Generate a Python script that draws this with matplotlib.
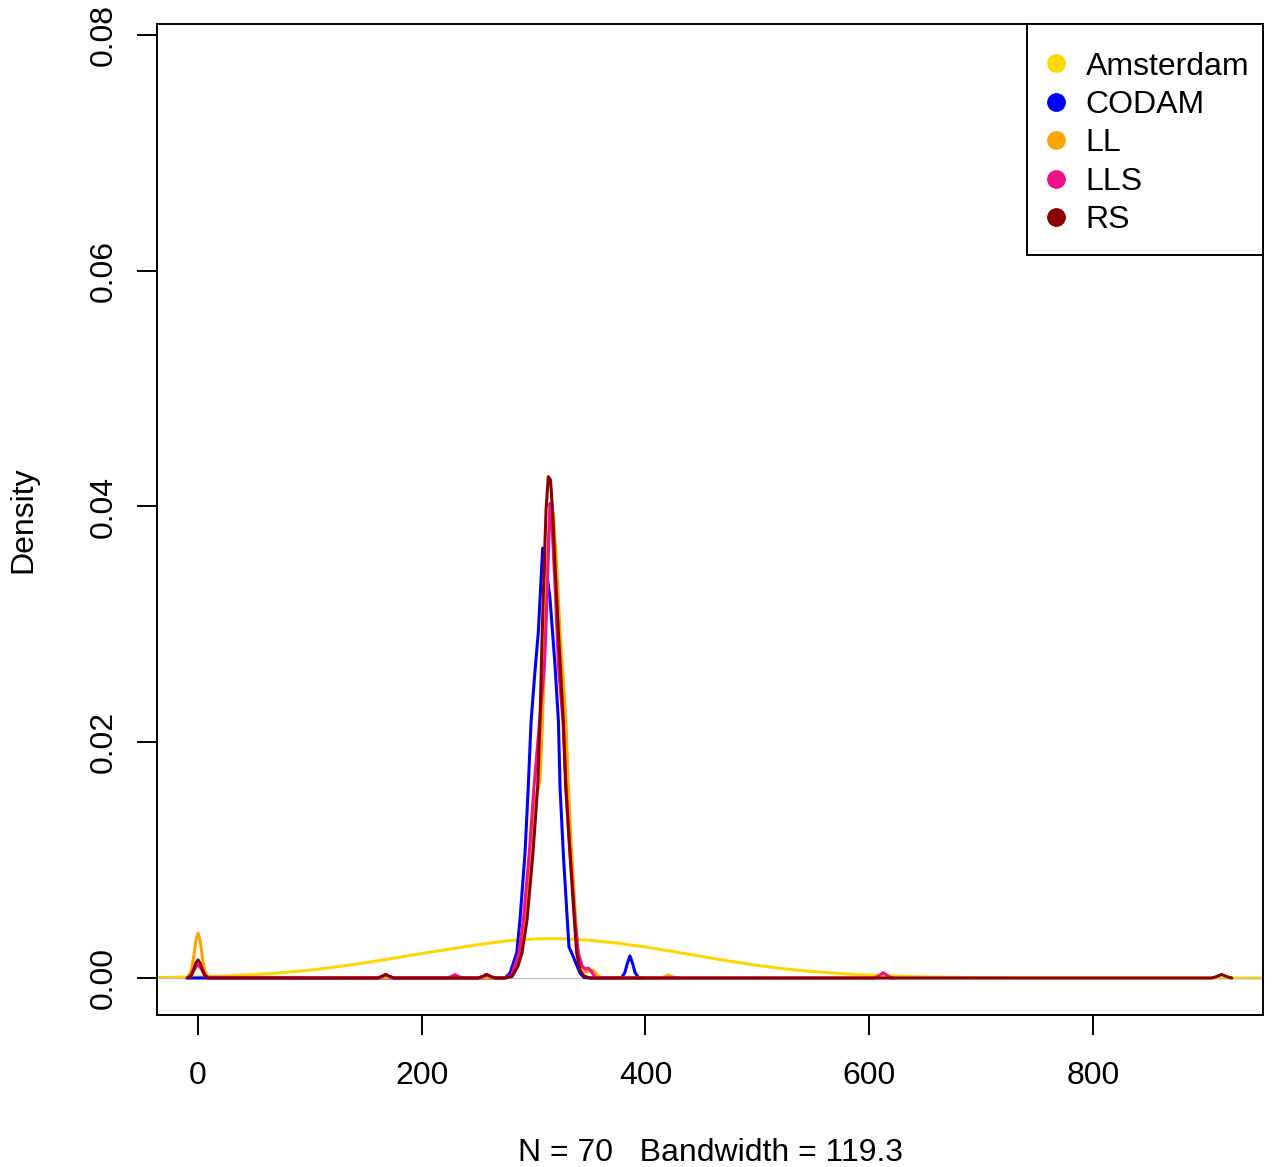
import matplotlib
matplotlib.use('Agg')
import matplotlib.pyplot as plt
from matplotlib.lines import Line2D
from matplotlib.patches import Rectangle

plt.rcParams['font.family'] = ['Liberation Sans', 'DejaVu Sans']

series_names = ['Amsterdam', 'CODAM', 'LL', 'LLS', 'RS']
series_colors = ['#FFD700', '#0000FF', '#FFA500', '#EE1289', '#8B0000']

amsterdam_x = [-37, 0, 25, 50, 75, 100, 125, 150, 175, 200, 225, 250, 275, 300, 313,
               325, 350, 375, 400, 425, 450, 475, 500, 525, 550, 575, 600, 625, 650,
               675, 700, 750, 800, 952]
amsterdam_y = [0.00003, 0.00010, 0.00017, 0.00029, 0.00045, 0.00067, 0.00096, 0.00130,
               0.00168, 0.00208, 0.00245, 0.00282, 0.00314, 0.00331, 0.00334, 0.00333,
               0.00320, 0.00296, 0.00263, 0.00224, 0.00183, 0.00143, 0.00107, 0.00077,
               0.00054, 0.00037, 0.00025, 0.00016, 0.00010, 0.00006, 0.00003, 0.00001,
               0.0, 0.0]

codam_x = [-10, 274.4, 278.9, 284.9, 287.8, 292.3, 295.2, 297.7, 301.0, 304.2, 306.6,
           308.1, 310.2, 314.6, 319.1, 322.2, 323.6, 326.5, 330.1, 331.6, 335.2, 338.8,
           341.5, 345.0, 350.4, 378.5, 381.5, 383.8, 386.1, 388.4, 390.7, 394.0, 397.0]
codam_y = [0, 0, 0.00042, 0.00212, 0.00492, 0.01060, 0.01620, 0.02172, 0.02580, 0.02935,
           0.03376, 0.03648, 0.03546, 0.03224, 0.02655, 0.02172, 0.01620, 0.01060,
           0.00492, 0.00263, 0.00187, 0.00102, 0.00042, 0.00004, 0, 0, 0.00045, 0.00125,
           0.00187, 0.00125, 0.00045, 0, 0]

ll_x = [-10, -9, -6, -4, -2, 0, 2, 4, 6, 9, 274.4, 278.9, 283.4, 287.8, 291.7, 297.7,
        301.2, 303.9, 305.7, 307.8, 309.5, 312.0, 314.2, 316.0, 317.8, 320.6, 323.6,
        328.9, 331.0, 334.0, 337.6, 339.9, 343.2, 346.8, 350.4, 353.3, 356.6, 361.1,
        413, 417, 420.5, 424, 428, 430]
ll_y = [0, 0.00007, 0.00065, 0.0017, 0.0031, 0.0038, 0.0031, 0.0017, 0.00065, 0.00007,
        0, 0.00008, 0.00051, 0.00212, 0.00492, 0.01060, 0.01536, 0.01595, 0.01680,
        0.02146, 0.02655, 0.03461, 0.03885, 0.03987, 0.03928, 0.03504, 0.02935, 0.02172,
        0.01620, 0.01060, 0.00492, 0.00212, 0.00102, 0.00051, 0.00059, 0.00068, 0.00025,
        0, 0, 0.0001, 0.00025, 0.0001, 0, 0]

lls_x = [-10, -8, -6, -4, -2, 0, 2, 4, 6, 8, 160, 164, 167.8, 171.6, 175.6, 222, 226,
         229.7, 233.4, 237.4, 250, 254.2, 258, 261.8, 266, 274.4, 280.4, 286.9, 290.8,
         296.1, 300.3, 305.3, 309.7, 312.0, 313.7, 314.6, 315.5, 316.7, 319.7, 322.1,
         326.3, 328.9, 332.5, 337.0, 339.9, 343.5, 346.8, 348.9, 351.3, 354.9, 357.5,
         604.5, 608.5, 612.5, 616.5, 620.5, 622]
lls_y = [0, 0.00005, 0.0002, 0.0006, 0.0009, 0.0011, 0.0009, 0.0006, 0.0002, 0.00005,
         0, 0.0001, 0.00028, 0.0001, 0, 0, 0.0001, 0.00028, 0.0001, 0, 0, 0.0001,
         0.00028, 0.0001, 0, 0, 0.00025, 0.00212, 0.00492, 0.01060, 0.01620, 0.02172,
         0.02655, 0.03224, 0.03784, 0.04027, 0.03970, 0.03784, 0.03224, 0.02655, 0.02172,
         0.01620, 0.01060, 0.00492, 0.00212, 0.00096, 0.00076, 0.00085, 0.00059, 0.00008,
         0, 0, 0.00018, 0.00045, 0.00018, 0, 0]

rs_x = [-9, -6, -4, -2, 0, 2, 4, 6, 9, 160, 164, 167.8, 171.6, 175.6, 250, 254.2, 258,
        261.8, 266, 274.4, 280.7, 286.0, 289.6, 294.1, 299.4, 303.6, 305.7, 307.5, 309.5,
        311.1, 313.1, 315.1, 316.9, 319.1, 322.5, 326.5, 328.7, 332.5, 336.4, 338.5,
        341.5, 345.0, 350.4, 906, 910.5, 915, 919.5, 924]
rs_y = [0, 0.00026, 0.0007, 0.00126, 0.00153, 0.00126, 0.0007, 0.00026, 0, 0, 0.00012,
        0.00031, 0.00012, 0, 0, 0.00012, 0.00031, 0.00012, 0, 0, 0.000127, 0.00102,
        0.00212, 0.00492, 0.01060, 0.01620, 0.02189, 0.02867, 0.03504, 0.03970, 0.04253,
        0.04225, 0.03970, 0.03504, 0.02867, 0.02189, 0.01620, 0.01060, 0.00492, 0.00212,
        0.00068, 0.00017, 0, 0, 0.00012, 0.0003, 0.00012, 0]

x_ticks = [0, 200, 400, 600, 800]
y_ticks = [0.00, 0.02, 0.04, 0.06, 0.08]
y_tick_labels = ['0.00', '0.02', '0.04', '0.06', '0.08']
x_label = 'N = 70   Bandwidth = 119.3'
y_label = 'Density'

series = [(amsterdam_x, amsterdam_y), (codam_x, codam_y), (ll_x, ll_y),
          (lls_x, lls_y), (rs_x, rs_y)]

FS = 23
W, H = 1272, 1167
fig = plt.figure(figsize=(W / 100, H / 100), dpi=100)
ax_l, ax_r, ax_t, ax_b = 157, 1263, 24, 1015
ax = fig.add_axes([ax_l / W, 1 - ax_b / H, (ax_r - ax_l) / W, (ax_b - ax_t) / H])

for i, ((xs, ys), c) in enumerate(zip(series, series_colors)):
    ax.plot(xs, ys, color=c, lw=2.2, solid_joinstyle='round', solid_capstyle='round',
            zorder=1 if i == 0 else 2)
ax.axhline(0, color='#BEBEBE', lw=0.9, zorder=1.5)

ax.set_xlim(-36.65, 951.96)
ax.set_ylim(-0.003139, 0.080933)

ax.set_xticks(x_ticks)
ax.set_xticklabels([str(t) for t in x_ticks])
ax.set_yticks(y_ticks)
ax.set_yticklabels(y_tick_labels)

for s in ax.spines.values():
    s.set_linewidth(1.4)
    s.set_color('black')

ax.tick_params(axis='both', direction='out', length=14.2, width=1.4, labelsize=FS,
               colors='black')
ax.tick_params(axis='x', pad=19.0)
ax.tick_params(axis='y', pad=13.0, labelrotation=90)
for lab in ax.get_yticklabels():
    lab.set_va('center')

ax.set_ylabel(y_label, fontsize=FS)
ax.yaxis.set_label_coords(-0.107, 0.5)
fig.text(710 / W, 1 - 1160.7 / H, x_label, ha='center', va='baseline', fontsize=FS)


def ax_x(px):
    return (px - ax_l) / (ax_r - ax_l)


def ax_y(py):
    return (ax_b - py) / (ax_b - ax_t)


frame = Rectangle((ax_x(1027), ax_y(255)), ax_x(1263) - ax_x(1027),
                  ax_y(24) - ax_y(255), transform=ax.transAxes, facecolor='white',
                  edgecolor='black', lw=1.4, clip_on=False, zorder=4)
ax.add_patch(frame)

handles = [Line2D([], [], ls='none', marker='o', ms=12.5, mfc=c, mec=c)
           for c in series_colors]
leg = ax.legend(handles, series_names, loc='center left',
                bbox_to_anchor=(ax_x(1047.5), ax_y(143.5)), borderaxespad=0,
                borderpad=0, frameon=False, fontsize=FS, handlelength=0.55,
                handletextpad=0.64, labelspacing=0.265)
leg.set_zorder(5)

fig.savefig('out.png', dpi=100)
